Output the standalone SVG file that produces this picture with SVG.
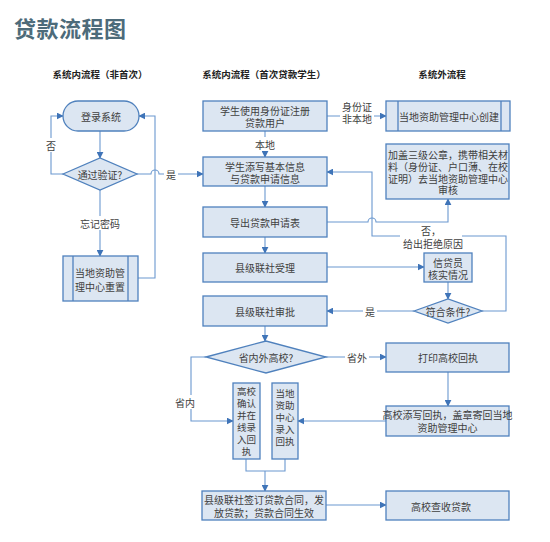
<svg xmlns="http://www.w3.org/2000/svg" width="550" height="542" viewBox="0 0 550 542">
<defs>
<marker id="arr" viewBox="0 0 10 10" refX="9" refY="5" markerWidth="7" markerHeight="7" markerUnits="userSpaceOnUse" orient="auto">
<path d="M0,0 L10,5 L0,10 z" fill="#3f74b8"/>
</marker>
<style>
.box{fill:#dce6f2;stroke:#4f81bd;stroke-width:1.3}
.ln{fill:none;stroke:#6b98cf;stroke-width:1.1}
.t{font-family:"Noto Sans CJK SC","Noto Sans",sans-serif;font-size:10px;fill:#404040;text-anchor:middle;dominant-baseline:central}
.v{font-size:9.5px}
.h{font-family:"Noto Sans CJK SC","Noto Sans",sans-serif;font-size:9.5px;font-weight:bold;fill:#222;text-anchor:middle;dominant-baseline:central}
.bg{fill:#ffffff}
</style>
</defs>
<rect width="550" height="542" fill="#ffffff"/>
<text x="14" y="27" font-family="'Noto Sans CJK SC',sans-serif" font-size="22" font-weight="bold" fill="#4d6b7a" dominant-baseline="central" letter-spacing="0.5">贷款流程图</text>
<text class="h" x="100" y="74">系统内流程（非首次）</text>
<text class="h" x="264" y="74">系统内流程（首次贷款学生）</text>
<text class="h" x="442" y="74">系统外流程</text>

<g id="connectors">
<path class="ln" d="M100,131 V158" marker-end="url(#arr)"/>
<path class="ln" d="M63,174 H51 V116 H63" marker-end="url(#arr)"/>
<path class="ln" d="M100,190 V256" marker-end="url(#arr)"/>
<path class="ln" d="M138,278 H155 V116 H139" marker-end="url(#arr)"/>
<path class="ln" d="M137,174 H151 A4,4 0 0 1 159,174 H203" marker-end="url(#arr)"/>
<path class="ln" d="M265,131 V157" marker-end="url(#arr)"/>
<path class="ln" d="M327,116 H386" marker-end="url(#arr)"/>
<path class="ln" d="M265,186 V207" marker-end="url(#arr)"/>
<path class="ln" d="M265,237 V253" marker-end="url(#arr)"/>
<path class="ln" d="M327,222 H368 A4,4 0 0 1 376,222 H448 V199" marker-end="url(#arr)"/>
<path class="ln" d="M482,311 H506 V236 H372 V172 H327" marker-end="url(#arr)"/>
<path class="ln" d="M327,267 H424" marker-end="url(#arr)"/>
<path class="ln" d="M448,282 V299" marker-end="url(#arr)"/>
<path class="ln" d="M414,311 H327" marker-end="url(#arr)"/>
<path class="ln" d="M265,326 V341" marker-end="url(#arr)"/>
<path class="ln" d="M206,357 H191 V421 H233" marker-end="url(#arr)"/>
<path class="ln" d="M326,357 H386" marker-end="url(#arr)"/>
<path class="ln" d="M448,372 V406" marker-end="url(#arr)"/>
<path class="ln" d="M386,421 H298" marker-end="url(#arr)"/>
<path class="ln" d="M246,459 V471 H285 V459"/>
<path class="ln" d="M265,471 V491" marker-end="url(#arr)"/>
<path class="ln" d="M326,505 H386" marker-end="url(#arr)"/>
<g id="labels">
<rect class="bg" x="45" y="138" width="12" height="14"/>
<text class="t" x="51" y="145">否</text>
<rect class="bg" x="78" y="216" width="44" height="14"/>
<text class="t" x="100" y="223">忘记密码</text>
<rect class="bg" x="164" y="167" width="14" height="14"/>
<text class="t" x="171" y="174">是</text>
<rect class="bg" x="254" y="137" width="22" height="14"/>
<text class="t" x="265" y="144">本地</text>
<rect class="bg" x="340" y="100" width="34" height="25"/>
<text class="t" x="357" y="106">身份证<tspan x="357" dy="12">非本地</tspan></text>
<rect class="bg" x="400" y="224" width="62" height="26"/>
<text class="t" x="431" y="230">否，<tspan x="433" dy="13">给出拒绝原因</tspan></text>
<rect class="bg" x="363" y="304" width="14" height="14"/>
<text class="t" x="370" y="311">是</text>
<rect class="bg" x="345" y="350" width="24" height="14"/>
<text class="t" x="357" y="357">省外</text>
<rect class="bg" x="173" y="395" width="24" height="14"/>
<text class="t" x="185" y="402">省内</text>
</g>
</g>

<g id="login">
<rect class="box" x="63" y="101" width="76" height="30" rx="15"/>
<text class="t" x="101" y="116">登录系统</text>
</g>
<g id="verify">
<path class="box" d="M63,174 L100,158 L137,174 L100,190 Z"/>
<text class="t" x="100" y="174">通过验证?</text>
</g>
<g id="reset">
<rect class="box" x="63" y="256" width="75" height="45"/>
<line x1="73" y1="256" x2="73" y2="301" stroke="#4f81bd" stroke-width="1.3"/>
<line x1="128" y1="256" x2="128" y2="301" stroke="#4f81bd" stroke-width="1.3"/>
<text class="t" x="100" y="272">当地资助管<tspan x="100" dy="14">理中心重置</tspan></text>
</g>
<g id="register">
<rect class="box" x="203" y="101" width="124" height="30"/>
<text class="t" x="265" y="110">学生使用身份证注册<tspan x="265" dy="12">贷款用户</tspan></text>
</g>
<g id="fillinfo">
<rect class="box" x="203" y="157" width="124" height="29"/>
<text class="t" x="265" y="166">学生添写基本信息<tspan x="265" dy="12">与贷款申请信息</tspan></text>
</g>
<g id="export">
<rect class="box" x="203" y="207" width="124" height="30"/>
<text class="t" x="265" y="222">导出贷款申请表</text>
</g>
<g id="accept">
<rect class="box" x="203" y="253" width="124" height="29"/>
<text class="t" x="265" y="267">县级联社受理</text>
</g>
<g id="approve">
<rect class="box" x="203" y="296" width="124" height="30"/>
<text class="t" x="265" y="311">县级联社审批</text>
</g>
<g id="inout">
<path class="box" d="M206,357 L266,341 L326,357 L266,373 Z"/>
<text class="t" x="266" y="357">省内外高校?</text>
</g>
<g id="schoolconfirm">
<rect class="box" x="233" y="383" width="27" height="76"/>
<text class="t v" x="246.5" y="391">高校<tspan x="246.5" dy="12">确认</tspan><tspan x="246.5" dy="12">并在</tspan><tspan x="246.5" dy="12">线录</tspan><tspan x="246.5" dy="12">入回</tspan><tspan x="246.5" dy="12">执</tspan></text>
</g>
<g id="centerinput">
<rect class="box" x="272" y="383" width="26" height="76"/>
<text class="t v" x="285" y="393">当地<tspan x="285" dy="12">资助</tspan><tspan x="285" dy="12">中心</tspan><tspan x="285" dy="12">录入</tspan><tspan x="285" dy="12">回执</tspan></text>
</g>
<g id="sign">
<rect class="box" x="202" y="491" width="124" height="29"/>
<text class="t" x="264" y="499.5" font-size="9.6">县级联社签订贷款合同，发<tspan x="264" dy="12">放贷款；贷款合同生效</tspan></text>
</g>
<g id="receive">
<rect class="box" x="386" y="491" width="123" height="29"/>
<text class="t" x="441" y="506">高校查收贷款</text>
</g>
<g id="create">
<rect class="box" x="386" y="101" width="124" height="30"/>
<line x1="398" y1="101" x2="398" y2="131" stroke="#4f81bd" stroke-width="1.3"/>
<line x1="501" y1="101" x2="501" y2="131" stroke="#4f81bd" stroke-width="1.3"/>
<text class="t" x="449" y="116">当地资助管理中心创建</text>
</g>
<g id="review">
<rect class="box" x="386" y="144" width="123" height="55"/>
<text class="t" x="448" y="154.5" font-size="9.5">加盖三级公章，携带相关材<tspan x="448" dy="11.5">料（身份证、户口薄、在校</tspan><tspan x="448" dy="11.5">证明）去当地资助管理中心</tspan><tspan x="448" dy="11.5">审核</tspan></text>
</g>
<g id="verifyofficer">
<rect class="box" x="424" y="253" width="48" height="29"/>
<text class="t" x="448" y="262">信贷员<tspan x="448" dy="12">核实情况</tspan></text>
</g>
<g id="condition">
<path class="box" d="M414,311 L448,299 L482,311 L448,323 Z"/>
<text class="t" x="448" y="311">符合条件?</text>
</g>
<g id="print">
<rect class="box" x="386" y="343" width="123" height="29"/>
<text class="t" x="448" y="357.5">打印高校回执</text>
</g>
<g id="schoolfill">
<rect class="box" x="386" y="406" width="123" height="30"/>
<text class="t" x="447.5" y="414.5" font-size="9.1">高校添写回执，盖章寄回当地<tspan x="447.5" dy="12.5">资助管理中心</tspan></text>
</g>
</svg>
